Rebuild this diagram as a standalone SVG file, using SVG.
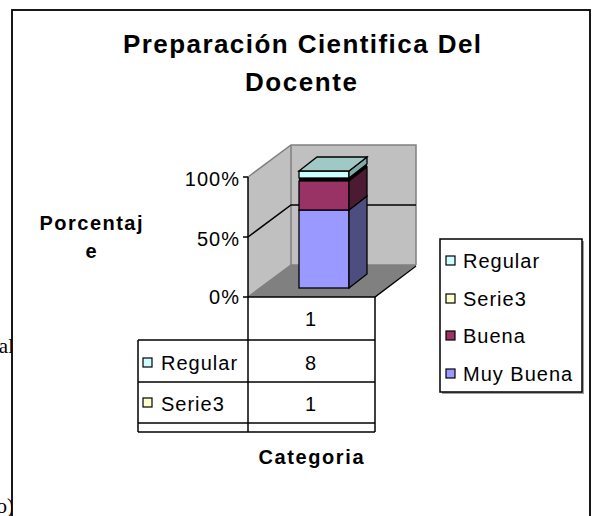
<svg xmlns="http://www.w3.org/2000/svg" width="597" height="516" viewBox="0 0 597 516">
<style>
.t{font-family:"Liberation Sans",Arial,sans-serif;fill:#000}
.r{font-size:20px;letter-spacing:1px}
.b{font-weight:bold}
.bk{stroke:#000;stroke-width:1.5;fill:none}
.gr{stroke:#808080;stroke-width:1.5;fill:none}
.o{stroke:#000;stroke-width:1.3}
.key{stroke:#000;stroke-width:1.2}
</style>
<rect width="597" height="516" fill="#fff"/>
<g id="background-text">
<text x="14" y="353" font-family="Liberation Serif,serif" font-size="21" text-anchor="end">al</text>
<text x="14" y="513" font-family="Liberation Serif,serif" font-size="21" text-anchor="end">o)</text>
</g>
<g id="frame">
<rect x="12" y="10" width="578" height="520" fill="#fff" stroke="#000" stroke-width="1.8"/>
</g>
<g id="title">
<text class="t b" x="302" y="53" font-size="26" text-anchor="middle" textLength="358" lengthAdjust="spacing">Preparación Cientifica Del</text>
<text class="t b" x="301" y="91" font-size="26" text-anchor="middle" textLength="112" lengthAdjust="spacing">Docente</text>
</g>
<g id="walls">
<polygon points="248,177 291,145 291,265 248,297" fill="#c0c0c0"/>
<rect x="291" y="145" width="125" height="120" fill="#c0c0c0"/>
<polygon points="248,297 291,265 416,265 375,297" fill="#808080"/>
<polyline class="gr" points="248,177 291,145 416,145 416,265"/>
<line class="gr" x1="291" y1="145" x2="291" y2="265"/>
<polyline class="gr" points="248,297 291,265 416,265"/>
</g>
<g id="connectors">
<polyline class="bk" points="248,237 291,205 416,205"/>
<line class="bk" x1="248" y1="177" x2="248" y2="432"/>
<line class="bk" x1="243" y1="177" x2="248" y2="177"/>
<line class="bk" x1="243" y1="237" x2="248" y2="237"/>
<polyline class="bk" points="243,297 375,297 416,266"/>
<line class="bk" x1="375" y1="297" x2="375" y2="432"/>
<line class="bk" x1="138" y1="340" x2="138" y2="432"/>
<line class="bk" x1="138" y1="340" x2="375" y2="340"/>
<line class="bk" x1="138" y1="382" x2="375" y2="382"/>
<line class="bk" x1="138" y1="423" x2="375" y2="423"/>
<line class="bk" x1="138" y1="432" x2="375" y2="432"/>
</g>
<g id="axis-labels">
<text class="t r" x="240" y="186" text-anchor="end">100%</text>
<text class="t r" x="240" y="246" text-anchor="end">50%</text>
<text class="t r" x="240" y="304" text-anchor="end">0%</text>
<text class="t b" x="91" y="230" font-size="20" text-anchor="middle" textLength="103" lengthAdjust="spacing">Porcentaj</text>
<text class="t b" x="91" y="258" font-size="20" text-anchor="middle">e</text>
<text class="t b" x="311" y="464" font-size="20" text-anchor="middle" textLength="105" lengthAdjust="spacing">Categoria</text>
</g>
<g id="bar">
<rect class="o" x="299" y="210" width="50" height="78" fill="#9999ff"/>
<polygon class="o" points="349,288 367,274 367,196 349,210" fill="#4d4d80"/>
<rect class="o" x="299" y="181" width="50" height="29" fill="#993366"/>
<polygon class="o" points="349,210 367,196 367,167 349,181" fill="#4d1a33"/>
<rect x="299" y="178" width="50" height="3" fill="#000"/>
<polygon points="349,181 367,167 367,164 349,178" fill="#000"/>
<rect class="o" x="299" y="171" width="50" height="7" fill="#ccffff"/>
<polygon class="o" points="349,178 367,164 367,157 349,171" fill="#80aaaa"/>
<polygon class="o" points="299,171 317,157 367,157 349,171" fill="#a0c8c4"/>
</g>
<g id="table">
<text class="t r" x="311" y="326" text-anchor="middle">1</text>
<rect class="key" x="143" y="358" width="9" height="9" fill="#ccffff"/>
<text class="t r" x="161" y="370">Regular</text>
<text class="t r" x="311" y="370" text-anchor="middle">8</text>
<rect class="key" x="143" y="398" width="9" height="9" fill="#ffffcc"/>
<text class="t r" x="161" y="411">Serie3</text>
<text class="t r" x="311" y="411" text-anchor="middle">1</text>
</g>
<g id="legend">
<rect x="442" y="241" width="142" height="153" fill="#a0a0a0"/>
<rect x="440" y="239" width="142" height="153" fill="#fff" stroke="#000" stroke-width="1.5"/>
<rect class="key" x="446" y="256" width="9" height="9" fill="#ccffff"/>
<text class="t r" x="463" y="268">Regular</text>
<rect class="key" x="446" y="294" width="9" height="9" fill="#ffffcc"/>
<text class="t r" x="463" y="306">Serie3</text>
<rect class="key" x="446" y="331" width="9" height="9" fill="#993366"/>
<text class="t r" x="463" y="343">Buena</text>
<rect class="key" x="446" y="369" width="9" height="9" fill="#9999ff"/>
<text class="t r" x="463" y="381">Muy Buena</text>
</g>
</svg>
